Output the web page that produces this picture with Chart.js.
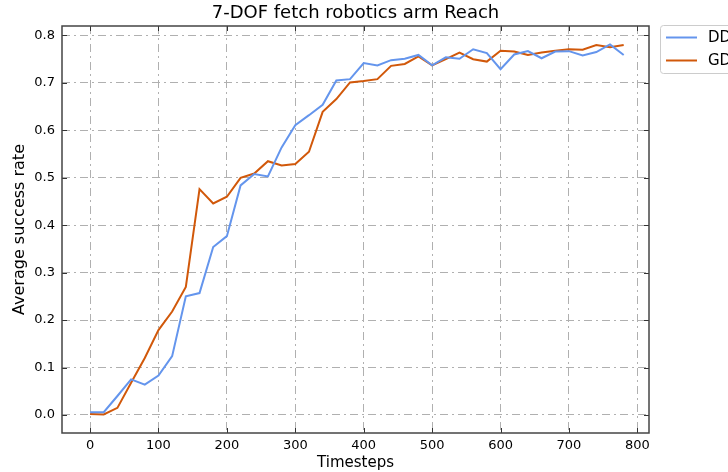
<!DOCTYPE html>
<html>
<head>
<meta charset="utf-8">
<script src="https://cdn.jsdelivr.net/npm/chart.js@4"></script>
<style>
  html, body { margin: 0; padding: 0; background: #fff; overflow: hidden; }
  #wrap { width: 728px; height: 472px; }
</style>
</head>
<body>
<div id="wrap"><canvas id="reachChart" width="728" height="472"></canvas></div>
<script>
const timesteps = [0, 20, 40, 60, 80, 100, 120, 140, 160, 180, 200, 220, 240, 260, 280, 300, 320, 340, 360, 380,
    400, 420, 440, 460, 480, 500, 520, 540, 560, 580, 600, 620, 640, 660, 680, 700, 720, 740, 760, 780];

const ddpg = [0.006, 0.006, 0.040, 0.075, 0.064, 0.083, 0.124, 0.250, 0.257, 0.354, 0.377, 0.484, 0.508, 0.503, 0.564, 0.611, 0.632, 0.654, 0.705, 0.708,
    0.742, 0.737, 0.748, 0.751, 0.759, 0.737, 0.754, 0.751, 0.771, 0.763, 0.729, 0.760, 0.767, 0.752, 0.766, 0.767, 0.758, 0.765, 0.781, 0.759];

const gdpg = [0.002, 0.001, 0.015, 0.068, 0.120, 0.179, 0.218, 0.270, 0.476, 0.446, 0.460, 0.500, 0.509, 0.535, 0.526, 0.529, 0.555, 0.639, 0.666, 0.701,
    0.704, 0.708, 0.736, 0.740, 0.756, 0.737, 0.750, 0.764, 0.750, 0.745, 0.768, 0.766, 0.759, 0.764, 0.768, 0.771, 0.770, 0.780, 0.775, 0.780];

const seriesNames = ['DDPG', 'GDPG'];
const xTicks = [0, 100, 200, 300, 400, 500, 600, 700, 800];
const yTicks = [0.0, 0.1, 0.2, 0.3, 0.4, 0.5, 0.6, 0.7, 0.8];

const BLUE = 'rgb(100,149,237)';
const ORANGE = 'rgb(209,88,10)';
const FONT = "'DejaVu Sans', sans-serif";

// frame, inner ticks, title and the (clipped) legend box
const decor = {
    id: 'decor',
    afterDraw(chart) {
        const ctx = chart.ctx;
        const a = chart.chartArea;
        const xs = chart.scales.x, ys = chart.scales.y;
        ctx.save();
        ctx.strokeStyle = '#333';
        ctx.lineWidth = 1;
        xTicks.forEach(v => {
            const px = Math.round(xs.getPixelForValue(v)) + 0.5;
            ctx.beginPath();
            ctx.moveTo(px, a.bottom); ctx.lineTo(px, a.bottom - 5);
            ctx.moveTo(px, a.top); ctx.lineTo(px, a.top + 5);
            ctx.stroke();
        });
        yTicks.forEach(v => {
            const py = Math.round(ys.getPixelForValue(v)) + 0.5;
            ctx.beginPath();
            ctx.moveTo(a.left, py); ctx.lineTo(a.left + 5, py);
            ctx.moveTo(a.right, py); ctx.lineTo(a.right - 5, py);
            ctx.stroke();
        });
        ctx.strokeStyle = '#444';
        ctx.lineWidth = 1.5;
        ctx.strokeRect(a.left, a.top, a.right - a.left, a.bottom - a.top);

        ctx.fillStyle = '#000';
        ctx.font = '18px ' + FONT;
        ctx.textAlign = 'center';
        ctx.textBaseline = 'bottom';
        ctx.fillText('7-DOF fetch robotics arm Reach', (a.left + a.right) / 2, a.top - 4);

        // legend
        const lx = 660.5, ly = 25.5;
        ctx.fillStyle = '#fff';
        ctx.strokeStyle = '#ccc';
        ctx.lineWidth = 1;
        ctx.beginPath();
        ctx.roundRect(lx, ly, 100, 48, 3);
        ctx.fill();
        ctx.stroke();
        [BLUE, ORANGE].forEach((c, i) => {
            const y = 37.5 + i * 23;
            ctx.strokeStyle = c;
            ctx.lineWidth = 2;
            ctx.beginPath();
            ctx.moveTo(666, y); ctx.lineTo(697, y);
            ctx.stroke();
            ctx.fillStyle = '#000';
            ctx.font = '15px ' + FONT;
            ctx.textAlign = 'left';
            ctx.textBaseline = 'middle';
            ctx.fillText(seriesNames[i], 708, y + 1);
        });
        ctx.restore();
    }
};

const gridStyle = {
    color: '#b0b0b0',
    lineWidth: 1,
    drawTicks: false
};
const gridBorder = { display: false, dash: [8, 4, 2, 4] };

const config = {
    type: 'line',
    data: {
        labels: timesteps,
        datasets: [{
            label: seriesNames[0],
            data: timesteps.map((t, i) => ({x: t, y: ddpg[i]})),
            borderColor: BLUE,
            borderWidth: 2,
            pointRadius: 0,
            tension: 0
        }, {
            label: seriesNames[1],
            data: timesteps.map((t, i) => ({x: t, y: gdpg[i]})),
            borderColor: ORANGE,
            borderWidth: 2,
            pointRadius: 0,
            tension: 0
        }]
    },
    options: {
        responsive: false,
        animation: false,
        layout: { padding: { top: 26, right: 79, left: 10, bottom: 0 } },
        plugins: {
            legend: { display: false },
            title: { display: false },
            tooltip: { enabled: false }
        },
        scales: {
            x: {
                type: 'linear',
                min: -41,
                max: 817,
                afterBuildTicks: s => { s.ticks = xTicks.map(v => ({value: v})); },
                afterFit: s => { s.height = 39; },
                grid: gridStyle,
                border: gridBorder,
                ticks: {
                    color: '#000',
                    font: { family: FONT, size: 13 },
                    padding: 5,
                    maxRotation: 0,
                    callback: v => String(v)
                },
                title: {
                    display: true,
                    text: 'Timesteps',
                    color: '#000',
                    font: { family: FONT, size: 15 },
                    padding: { top: 0, bottom: 0 }
                }
            },
            y: {
                type: 'linear',
                min: -0.038,
                max: 0.82,
                afterBuildTicks: s => { s.ticks = yTicks.map(v => ({value: v})); },
                afterFit: s => { s.width = 52; },
                grid: gridStyle,
                border: gridBorder,
                ticks: {
                    color: '#000',
                    font: { family: FONT, size: 13 },
                    padding: 7,
                    callback: v => v.toFixed(1)
                },
                title: {
                    display: true,
                    text: 'Average success rate',
                    color: '#000',
                    font: { family: FONT, size: 16 },
                    padding: { top: 0, bottom: 0 }
                }
            }
        }
    },
    plugins: [decor]
};

const reachChart = new Chart(document.getElementById('reachChart'), config);
</script>
</body>
</html>
